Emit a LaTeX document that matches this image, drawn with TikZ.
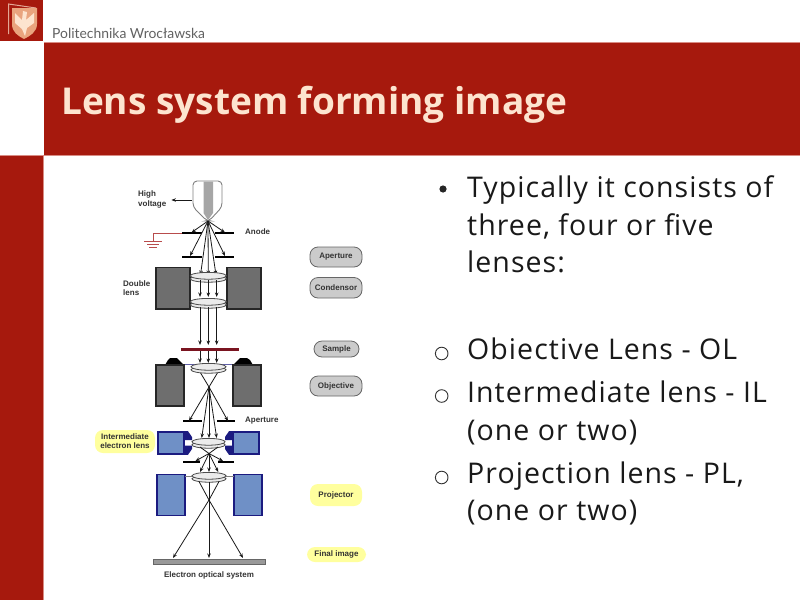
\documentclass[tikz,border=0pt]{standalone}
\usepackage{fontspec}
\usetikzlibrary{arrows.meta,shapes.geometric}
\setmainfont{Open Sans}
\newfontfamily\bodyfont{Open Sans}[LetterSpace=3.7]
\newfontfamily\labfont{Liberation Sans}[BoldFont={Liberation Sans Bold}]
\newfontfamily\brandfont{Lato}
\definecolor{brick}{HTML}{A6190D}
\definecolor{peach}{HTML}{FDE4CF}
\definecolor{edgepink}{HTML}{D98C84}
\definecolor{coilgray}{HTML}{6E6E6E}
\definecolor{coilblue}{HTML}{6F90C6}
\definecolor{navy}{HTML}{1B1B80}
\definecolor{pillgray}{HTML}{CBCBCB}
\definecolor{pillyellow}{HTML}{FFFF9E}
\definecolor{labelink}{HTML}{333333}
\definecolor{samplered}{HTML}{7A1420}
\definecolor{crestbg}{HTML}{E9A47E}
\tikzset{
  ray/.style={draw=black!90,line width=0.8pt,-{Stealth[length=4.5pt,width=3.5pt]}},
  rayplain/.style={draw=black!90,line width=0.8pt},
  plate/.style={draw=black,line width=1.6pt},
  coil/.style={draw=black!85,fill=coilgray,line width=1.5pt},
  bluecoil/.style={draw=navy,fill=coilblue,line width=1.5pt},
  lensa/.style={draw=black!70,fill=black!8,line width=0.8pt},
  lab/.style={font=\labfont\bfseries\fontsize{8}{9.2}\selectfont,text=labelink,inner sep=0pt},
  pilltext/.style={lab},
  bodytext/.style={anchor=base west,inner sep=0pt,font=\bodyfont\fontsize{28.5}{34}\selectfont,text=black!90},
  bulletring/.style={draw=black!80,line width=0.9pt},
  pillg/.style={draw=black!60,fill=pillgray,line width=0.8pt,rounded corners=8pt},
  pilly/.style={fill=pillyellow,rounded corners=8pt},
}
\newcommand{\lensat}[3]{% cx, cy, half-width
  \draw[lensa] (#1,#2+1.8) ellipse ({#3} and 3.4);
  \draw[lensa] (#1,#2-1.2) ellipse ({#3} and 3.4);
}
\begin{document}
\begin{tikzpicture}[x=1pt,y=-1pt]
\useasboundingbox (0,0) rectangle (800,600);
\fill[white] (0,0) rectangle (800,600);
% frame
\fill[brick] (0,0) rectangle (43,41);
\fill[edgepink] (43.5,42) rectangle (800,155.5);
\fill[brick] (44,43) rectangle (800,155);
\fill[edgepink] (0,155) rectangle (43.5,600);
\fill[brick] (0,156) rectangle (43,600);
% crest
\draw[peach!70!brick,line width=1pt] (8.5,34) -- (8.5,4) -- (36,8);
\fill[crestbg] (12,8) -- (37,8) -- (37,24) .. controls (37,32) and (30,36) .. (24,39) .. controls (18,36) and (12,32) .. (12,24) -- cycle;
\fill[peach] (23,11) -- (27,12) -- (26,20) -- (34,13) -- (34,23) -- (27,28) -- (25,36) -- (22,29) -- (15,23) -- (15,13) -- (22,20) -- cycle;
\node[anchor=base west,inner sep=0pt,font=\brandfont\fontsize{13.9}{16}\selectfont,text=black!62] (brand) at (52,38) {Politechnika Wrocławska};
% title
\node[anchor=base west,inner sep=0pt,font=\bfseries\fontsize{37}{44}\selectfont,text=peach] (title) at (61,114) {Lens system forming image};
% body
\fill[black!85] (443,189) circle (3.6);
\node[bodytext] (b1) at (467,197) {Typically it consists of};
\node[bodytext] (b2) at (467,235) {three, four or five};
\node[bodytext] (b3) at (467,272.5) {lenses:};
\draw[bulletring] (441.7,353.5) circle (6.3);
\node[bodytext] (b4) at (467,359) {Obiective Lens - OL};
\draw[bulletring] (441.7,396) circle (6.3);
\node[bodytext] (b5) at (467,402.5) {Intermediate lens - IL};
\node[bodytext] (b6) at (467,440) {(one or two)};
\draw[bulletring] (441.7,477.5) circle (6.3);
\node[bodytext] (b7) at (467,483) {Projection lens - PL,};
\node[bodytext] (b8) at (467,520) {(one or two)};
% gun
\draw[black!50,fill=white,line width=0.9pt,rounded corners=4pt] (193,181) -- (222,181) -- (222,207) -- (209,221) -- (207,221) -- (193,207) -- cycle;
\fill[black!35] (203.5,181.5) -- (213,181.5) -- (213,213) -- (208,220) -- (203.5,213) -- cycle;
\coordinate (tip) at (208,221);
\node[lab,align=left,anchor=west] (hv) at (138,199.5) {High\\voltage};
\coordinate (hvstart) at (191.5,200);
\draw[ray] (hvstart) -- ([xshift=5pt]hv.east |- hvstart);
% anode
\draw[plate] (182,233) -- (202,233);
\draw[plate] (215,233) -- (234,233);
\draw[plate] (182,257) -- (202,257);
\draw[plate] (215,257) -- (234,257);
\node[lab,anchor=west] (anode) at (245,232) {Anode};
\draw[red!60!black!70,line width=0.7pt] (182,233) -- (153.5,233) -- (153.5,241.5);
\draw[red!60!black!70,line width=0.7pt] (144,241.5) -- (162,241.5);
\draw[red!60!black!70,line width=0.7pt] (147,244.5) -- (159,244.5);
\draw[red!60!black!70,line width=0.7pt] (149,247) -- (157,247);
\draw[ray] (tip) -- (191.5,232.5);
\draw[ray] (tip) -- (225,232.5);
\draw[ray] (tip) -- (190,256);
\draw[ray] (tip) -- (225,256);
\draw[ray] (tip) -- (200.5,275);
\draw[ray] (tip) -- (208.3,275);
\draw[ray] (tip) -- (216,275);
% double lens
\draw[coil] (156,267.5) rectangle (190,309);
\draw[coil] (227,267.5) rectangle (261,309);
\lensat{208.3}{277}{18}
\lensat{208.3}{303}{18}
\draw[ray] (200,280) -- (200,297);
\draw[ray] (208.3,280) -- (208.3,297);
\draw[ray] (216.7,280) -- (216.7,297);
\draw[ray] (200,307) -- (200,345);
\draw[ray] (208.3,307) -- (208.3,345);
\draw[ray] (216.7,307) -- (216.7,345);
% sample
\fill[samplered] (181,347.5) rectangle (239,350.5);
\draw[ray] (200,351) -- (200,363);
\draw[ray] (208.3,351) -- (208.3,363);
\draw[ray] (216.7,351) -- (216.7,363);
% objective
\draw[navy!70,line width=0.5pt] (184,364.5) -- (233,364.5);
\fill[black] (165,365) -- (168,360) -- (170,358) -- (177,358) -- (184,365) -- cycle;
\fill[black] (233,365) -- (240,358) -- (247,358) -- (250,360) -- (253,365) -- cycle;
\draw[coil] (156,365) rectangle (184,406);
\draw[coil] (233,365) rectangle (261,406);
\draw[rayplain] (200,372) -- (209,387) -- (218,372);
\lensat{208.5}{368}{17.5}
\coordinate (objcross) at (209,387);
\draw[plate] (183,421) -- (202,421);
\draw[plate] (217,421) -- (235,421);
\draw[ray] (objcross) -- (189,421);
\draw[ray] (objcross) -- (228,421);
\draw[ray] (objcross) -- (201.7,438);
\draw[ray] (objcross) -- (209,438);
\draw[ray] (objcross) -- (216.7,438);
\node[lab,anchor=west] (ap2) at (245,420.5) {Aperture};
% intermediate
\draw[bluecoil] (158,432) rectangle (184,454);
\draw[bluecoil] (233,432) rectangle (259,454);
\fill[navy] (184,431.2) -- (188,431.2) -- (192,437) -- (192,440) -- (184,440) -- cycle;
\fill[navy] (184,454.8) -- (188,454.8) -- (192,449) -- (192,445.5) -- (184,445.5) -- cycle;
\fill[navy] (233,431.2) -- (229,431.2) -- (225,437) -- (225,440) -- (233,440) -- cycle;
\fill[navy] (233,454.8) -- (229,454.8) -- (225,449) -- (225,445.5) -- (233,445.5) -- cycle;
\lensat{208.5}{443}{16.5}
\coordinate (intcross) at (209,453.5);
\draw[rayplain] (200,447) -- (intcross) -- (218,447);
\draw[plate] (183,462) -- (200,462);
\draw[plate] (218,462) -- (234,462);
\draw[ray] (intcross) -- (195.5,461);
\draw[ray] (intcross) -- (223,461);
\draw[ray] (intcross) -- (200,472);
\draw[ray] (intcross) -- (209,472);
\draw[ray] (intcross) -- (218.3,472);
% projector
\draw[bluecoil] (157,474.5) rectangle (185,515.5);
\draw[bluecoil] (234,474.5) rectangle (262,515.5);
\draw[black!50,line width=0.5pt] (185,476) -- (192,476) (226,476) -- (234,476);
\lensat{209}{477}{17}
\coordinate (procross) at (209,500);
\draw[rayplain] (199,481.5) -- (procross) -- (219,481.5);
\draw[rayplain] (209,481.5) -- (procross);
\draw[ray] (procross) -- (173,558);
\draw[ray] (procross) -- (209,558);
\draw[ray] (procross) -- (243,558);
% screen
\draw[black!60,fill=black!40,line width=0.7pt] (153,559.5) rectangle (265,564);
\node[lab] (cap) at (209,575) {Electron optical system};
\node[lab,align=left,anchor=west] (dbl) at (123,288.5) {Double\\lens};
% pills
\draw[pillg] (310,247) rectangle (362,267);
\node[pilltext] (pa) at (336,257) {Aperture};
\draw[pillg] (310,277.5) rectangle (362,298);
\node[pilltext] (pc) at (336,287.5) {Condensor};
\draw[pillg] (314,341) rectangle (359,357);
\node[pilltext] (ps) at (336.5,349) {Sample};
\draw[pillg] (310,376) rectangle (362,396);
\node[pilltext] (po) at (336,386) {Objective};
\fill[pilly] (95,430) rectangle (155,453);
\node[pilltext,align=center] (pi) at (125,441) {Intermediate\\electron lens};
\fill[pilly] (310,484) rectangle (362,506);
\node[pilltext] (pp) at (336,495) {Projector};
\fill[pilly] (307,547) rectangle (366,562);
\node[pilltext] (pf) at (336.5,554) {Final image};
\end{tikzpicture}
\end{document}
